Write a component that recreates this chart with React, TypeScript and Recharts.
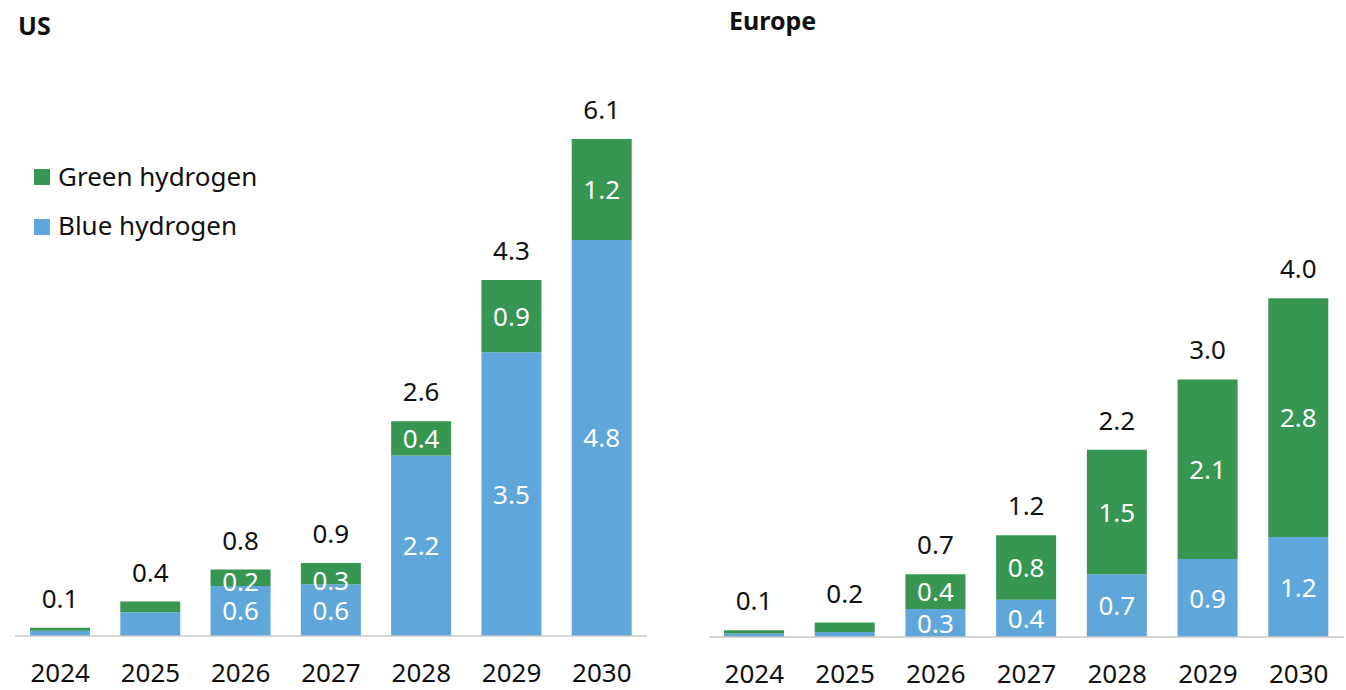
import { BarChart, Bar, XAxis, YAxis, LabelList, Legend } from "recharts";

const years = ["2024", "2025", "2026", "2027", "2028", "2029", "2030"];

const usBlue = [0.065, 0.29, 0.61, 0.63, 2.2, 3.46, 4.83];
const usGreen = [0.035, 0.13, 0.2, 0.26, 0.42, 0.88, 1.23];

const euBlue = [0.04, 0.06, 0.33, 0.44, 0.74, 0.92, 1.18];
const euGreen = [0.04, 0.11, 0.41, 0.76, 1.47, 2.12, 2.82];

const GREEN = "#369652";
const BLUE = "#5fa6da";
const FONT = "'Noto Sans', sans-serif";

// small bars only get the total on top
function buildRows(blue: number[], green: number[]) {
  return years.map((year, i) => {
    const total = Math.round((blue[i] + green[i]) * 100) / 100;
    const inside = total >= 0.5;
    return {
      year,
      blue: blue[i],
      green: green[i],
      total,
      blueLabel: inside ? blue[i] : null,
      greenLabel: inside ? green[i] : null,
    };
  });
}

const usData = buildRows(usBlue, usGreen);
const euData = buildRows(euBlue, euGreen);

function InnerLabel(props: any) {
  const { x, y, width, height, value } = props;
  if (value == null) return null;
  const cy = height < 22 ? y + height - 4 : y + height / 2;
  return (
    <text x={x + width / 2} y={cy + 9.5} textAnchor="middle" fontSize={26} fill="#fff" fontFamily={FONT}>
      {Number(value).toFixed(1)}
    </text>
  );
}

function TotalLabel(props: any) {
  const { x, y, width, value } = props;
  return (
    <text x={x + width / 2} y={y - 20} textAnchor="middle" fontSize={26} fill="#111" fontFamily={FONT}>
      {Number(value).toFixed(1)}
    </text>
  );
}

function renderLegend() {
  return (
    <svg width={300} height={100} style={{ display: "block" }}>
      <rect x={4} y={19} width={16} height={16} fill={GREEN} />
      <text x={28} y={36} fontSize={26} fill="#111" fontFamily={FONT}>Green hydrogen</text>
      <rect x={4} y={69} width={16} height={16} fill={BLUE} />
      <text x={28} y={85} fontSize={26} fill="#111" fontFamily={FONT}>Blue hydrogen</text>
    </svg>
  );
}

function Panel({ data, width, margin, axisHeight, showLegend }: any) {
  return (
    <BarChart width={width} height={690} data={data} margin={margin} barSize={60}>
      <XAxis
        dataKey="year"
        height={axisHeight}
        axisLine={{ stroke: "#c8c8c8", strokeWidth: 1.5 }}
        tickLine={false}
        tickSize={0}
        tickMargin={28}
        interval={0}
        tick={{ fontSize: 26, fill: "#111", fontFamily: FONT }}
      />
      <YAxis hide domain={[0, 7]} />
      {showLegend && (
        <Legend
          layout="vertical"
          align="center"
          verticalAlign="middle"
          content={renderLegend}
          wrapperStyle={{ left: 30, top: 150, width: 300 }}
        />
      )}
      <Bar dataKey="blue" name="Blue hydrogen" stackId="a" fill={BLUE} isAnimationActive={false}>
        <LabelList dataKey="blueLabel" content={InnerLabel} />
      </Bar>
      <Bar dataKey="green" name="Green hydrogen" stackId="a" fill={GREEN} isAnimationActive={false}>
        <LabelList dataKey="greenLabel" content={InnerLabel} />
        <LabelList dataKey="total" content={TotalLabel} />
      </Bar>
    </BarChart>
  );
}

export default function App() {
  return (
    <div style={{ position: "absolute", left: 0, top: 0, width: 1346, height: 690, background: "#fff", fontFamily: FONT }}>
      <div style={{ position: "absolute", left: 0, top: 0 }}>
        <Panel data={usData} width={660} margin={{ top: 62, right: 13, bottom: 0, left: 15 }} axisHeight={54} showLegend />
      </div>
      <div style={{ position: "absolute", left: 680, top: 0 }}>
        <Panel data={euData} width={666} margin={{ top: 44, right: 2, bottom: 0, left: 29 }} axisHeight={53} />
      </div>
      <svg width={1346} height={60} style={{ position: "absolute", left: 0, top: 0, pointerEvents: "none" }}>
        <text x={18} y={35} fontSize={25} fontWeight="bold" fill="#111" fontFamily={FONT}>US</text>
        <text x={729} y={29.5} fontSize={25} fontWeight="bold" fill="#111" fontFamily={FONT}>Europe</text>
      </svg>
    </div>
  );
}
